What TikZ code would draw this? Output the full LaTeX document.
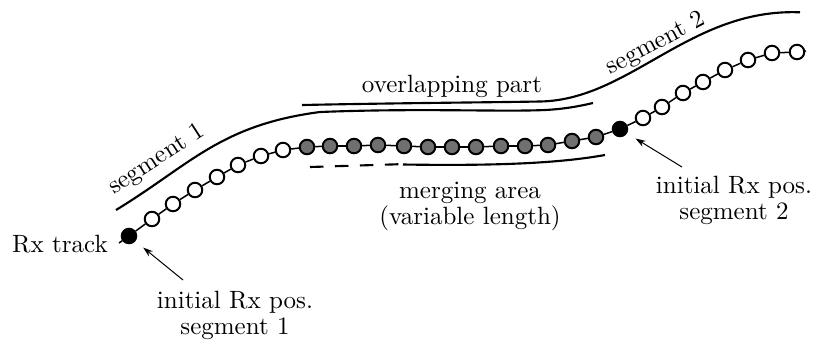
\documentclass[tikz,border=0pt]{standalone}
\usetikzlibrary{arrows.meta}
\definecolor{dotgray}{RGB}{112,112,112}
\begin{document}
\begin{tikzpicture}[x=0.4pt,y=-0.4pt,
  pt/.style={circle,draw=black,line width=0.8pt,inner sep=0pt,minimum size=5.8pt},
  wpt/.style={pt,fill=white},
  gpt/.style={pt,fill=dotgray},
  bpt/.style={pt,fill=black},
  trk/.style={line width=0.6pt},
  seg/.style={line width=0.85pt},
  lbl/.style={inner sep=0pt,align=center},
  ptr/.style={-{Stealth[length=4pt,width=2.6pt]},line width=0.4pt,shorten >=4pt}]
\useasboundingbox (0,0) rectangle (816,349);
% track points
\foreach \n/\x/\y/\s in {1/129/236/bpt,2/152/219/wpt,3/173/204/wpt,4/195/190/wpt,
  5/217/177/wpt,6/238/165/wpt,7/261/156/wpt,8/283/150/wpt,
  9/307/147/gpt,10/330/146/gpt,11/354/146/gpt,12/378/145/gpt,13/404/146/gpt,
  14/428/147/gpt,15/452/147/gpt,16/476/147/gpt,17/501/146/gpt,18/525/146/gpt,
  19/548/145/gpt,20/572/141/gpt,21/596/137/gpt,22/620/129/bpt,
  23/643/118/wpt,24/662/107/wpt,25/683/93/wpt,26/703/82/wpt,27/725/70/wpt,
  28/748/60/wpt,29/772/53/wpt,30/797/52/wpt}
  \node[\s] (c\n) at (\x,\y) {};
\coordinate (t0) at (119,243);
\coordinate (t31) at (806,51);
\draw[trk] (t0) -- (c1);
\foreach \i [count=\j from 2] in {1,...,29} \draw[trk] (c\i) -- (c\j);
\draw[trk] (c30) -- (t31);
% segment 1
\draw[seg] (116,210) .. controls (190,165) and (220,125) .. (320,112)
  .. controls (420,108) and (500,112) .. (545,110)
  .. controls (565,109) and (580,106) .. (593,103);
% segment 2
\draw[seg] (302,105) .. controls (400,103) and (480,102.5) .. (540,101.5)
  .. controls (630,100) and (690,8) .. (800,12.3);
% merging area
\draw[seg,dash pattern=on 5.4pt off 4.6pt] (310,167) -- (400,164.2);
\draw[seg] (403,164.5) .. controls (500,166) and (560,163) .. (605,155);
% labels
\node[lbl,rotate=33] (s1) at (157,160) {segment 1};
\node[lbl,rotate=28] (s2) at (656,44) {segment 2};
\node[lbl,anchor=base] (ov) at (452,92) {overlapping part};
\node[lbl,anchor=base] (rx) at (60,252) {Rx track};
\node[lbl] (mg) at (470,206) {merging area\\[-1.6pt](variable length)};
\node[lbl] (i1) at (235,315) {initial Rx pos.\\[-1.6pt]segment 1};
\node[lbl] (i2) at (734,200) {initial Rx pos.\\[-1.6pt]segment 2};
% pointers
\coordinate (a1) at (183,280);
\coordinate (a2) at (682,167);
\draw[ptr] (a1) -- (c1);
\draw[ptr] (a2) -- (c22);
\end{tikzpicture}
\end{document}
